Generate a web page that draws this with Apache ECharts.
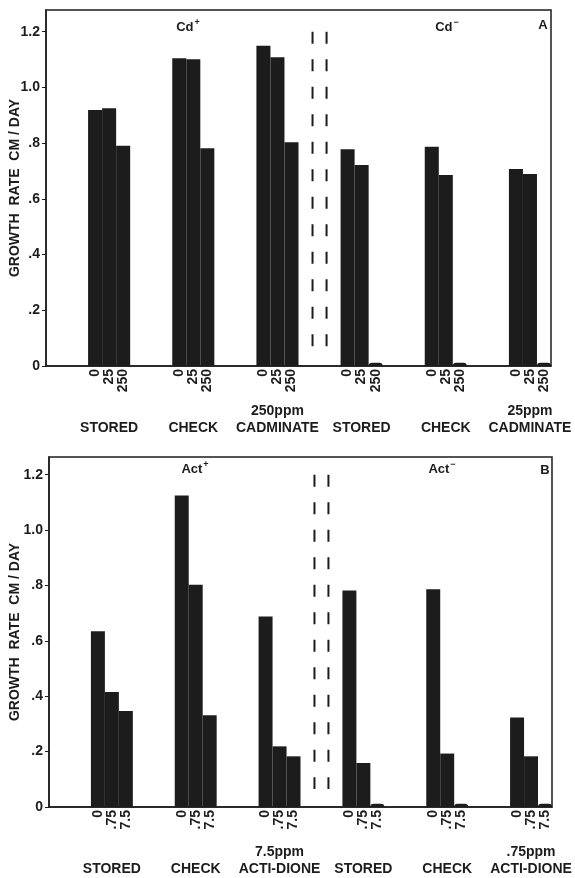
<!DOCTYPE html>
<html>
<head>
<meta charset="utf-8">
<script src="https://cdn.jsdelivr.net/npm/echarts@6/dist/echarts.min.js"></script>
<style>
  html, body { margin: 0; padding: 0; background: #fff; }
  #chart { width: 575px; height: 878px; }
</style>
</head>
<body>
<div id="chart"></div>
<script>
// Panel A: Cadminate
const groupsA = ["STORED", "CHECK", "250ppm\nCADMINATE", "STORED", "CHECK", "25ppm\nCADMINATE"];
const dosesA = ["0", "25", "250"];
const valuesA = [
  0.919, 0.925, 0.791,
  1.105, 1.101, 0.782,
  1.150, 1.108, 0.803,
  0.778, 0.722, 0.012,
  0.787, 0.686, 0.012,
  0.707, 0.689, 0.012,
];

// Panel B: Acti-dione
const groupsB = ["STORED", "CHECK", "7.5ppm\nACTI-DIONE", "STORED", "CHECK", ".75ppm\nACTI-DIONE"];
const dosesB = ["0", ".75", "7.5"];
const valuesB = [
  0.635, 0.415, 0.347,
  1.125, 0.803, 0.331,
  0.688, 0.219, 0.183,
  0.782, 0.159, 0.012,
  0.786, 0.193, 0.012,
  0.323, 0.183, 0.012,
];

const yTickValues = [0, 0.2, 0.4, 0.6, 0.8, 1.0, 1.2];
const yTickLabels = ["0", ".2", ".4", ".6", ".8", "1.0", "1.2"];

// dashed separator between + and - halves, in slot units (top -> bottom)
const dividerSlots = [19, 20];
const dividerSpanA = [1.2, 0.07];
const dividerSpanB = [1.2, 0.065];

const SLOTS = 36; // 6 groups x (3 empty + 3 bars)
const FONT = "'Liberation Sans', Arial, sans-serif";
const INK = "#1c1c1c";

function expandBars(values) {
  const out = [];
  for (let g = 0; g < 6; g++) {
    out.push("-", "-", "-");
    for (let i = 0; i < 3; i++) {
      const v = values[g * 3 + i];
      // near-zero growth is drawn as a small dome
      out.push(v < 0.05 ? { value: v, itemStyle: { borderRadius: [7, 7, 0, 0] } } : v);
    }
  }
  return out;
}

function expandDoses(doses) {
  const out = [];
  for (let g = 0; g < 6; g++) out.push("", "", "", ...doses);
  return out;
}

function expandGroups(groups) {
  const out = [];
  for (let g = 0; g < 6; g++) {
    const name = groups[g].includes("\n") ? groups[g] : "\n" + groups[g];
    out.push("", "", "", "", name, "");
  }
  return out;
}

function panelAxes(gridIndex, doses, groups) {
  return [
    {
      type: "category",
      gridIndex,
      position: "bottom",
      data: expandDoses(doses),
      boundaryGap: true,
      axisLine: { lineStyle: { color: INK, width: 1.5 } },
      axisTick: { show: false },
      axisLabel: {
        interval: 0,
        rotate: 90,
        margin: 3,
        color: INK,
        fontFamily: FONT,
        fontWeight: "bold",
        fontSize: 14,
      },
    },
    {
      type: "category",
      gridIndex,
      position: "bottom",
      data: expandGroups(groups),
      axisLine: { show: false },
      axisTick: { show: false },
      axisLabel: {
        interval: 0,
        margin: 36,
        lineHeight: 17.5,
        color: INK,
        fontFamily: FONT,
        fontWeight: "bold",
        fontSize: 14,
      },
    },
    {
      type: "value",
      gridIndex,
      position: "bottom",
      min: 0,
      max: SLOTS,
      show: false,
    },
  ];
}

function yAxisFor(gridIndex, max, gap) {
  return {
    type: "value",
    gridIndex,
    min: 0,
    max,
    name: "GROWTH  RATE  CM / DAY",
    nameLocation: "middle",
    nameGap: gap,
    nameMoveOverlap: false,
    nameTextStyle: { color: INK, fontFamily: FONT, fontWeight: "bold", fontSize: 14 },
    splitLine: { show: false },
    axisLine: { show: true, lineStyle: { color: INK, width: 1.5 } },
    axisTick: { show: true, length: 4, customValues: yTickValues, lineStyle: { color: INK } },
    axisLabel: {
      customValues: yTickValues,
      formatter: (v) => yTickLabels[Math.round(v / 0.2)],
      color: INK,
      fontFamily: FONT,
      fontWeight: "bold",
      fontSize: 14,
      margin: 6,
    },
  };
}

function barSeries(xAxisIndex, yAxisIndex, values) {
  return {
    type: "bar",
    xAxisIndex,
    yAxisIndex,
    data: expandBars(values),
    barWidth: "100%",
    barGap: "0%",
    itemStyle: { color: INK },
    silent: true,
  };
}

function dividerSeries(xAxisIndex, yAxisIndex, span) {
  return dividerSlots.map((s) => ({
    type: "line",
    xAxisIndex,
    yAxisIndex,
    data: [[s, span[0]], [s, span[1]]],
    symbol: "none",
    lineStyle: { color: INK, width: 2, type: [12, 15.5] },
    silent: true,
  }));
}

function label(text, x, y, rich) {
  return {
    type: "text",
    x,
    y,
    style: {
      text,
      align: "center",
      verticalAlign: "middle",
      fill: INK,
      font: "bold 13px " + FONT,
      rich,
    },
  };
}

const supRich = {
  m: { fontFamily: FONT, fontWeight: "bold", fontSize: 13, fill: INK },
  s: { fontFamily: FONT, fontWeight: "bold", fontSize: 9, fill: INK, padding: [0, 0, 8, 1] },
};

const option = {
  backgroundColor: "#fff",
  animation: false,
  grid: [
    { left: 46, top: 10, width: 505, height: 356, show: true, borderColor: INK, borderWidth: 1.5, outerBoundsMode: "none" },
    { left: 49, top: 457, width: 503, height: 350, show: true, borderColor: INK, borderWidth: 1.5, outerBoundsMode: "none" },
  ],
  xAxis: [...panelAxes(0, dosesA, groupsA), ...panelAxes(1, dosesB, groupsB)],
  yAxis: [yAxisFor(0, 1.278, 24), yAxisFor(1, 1.264, 27)],
  series: [
    barSeries(0, 0, valuesA),
    barSeries(3, 1, valuesB),
    ...dividerSeries(2, 0, dividerSpanA),
    ...dividerSeries(5, 1, dividerSpanB),
  ],
  graphic: [
    label("{m|Cd}{s|+}", 188, 27, supRich),
    label("{m|Cd}{s|\u2212}", 447, 27, supRich),
    label("A", 543, 25),
    label("{m|Act}{s|+}", 195, 469, supRich),
    label("{m|Act}{s|\u2212}", 442, 469, supRich),
    label("B", 545, 470),
  ],
};

const chart = echarts.init(document.getElementById("chart"), null, { renderer: "canvas" });
chart.setOption(option);
</script>
</body>
</html>
